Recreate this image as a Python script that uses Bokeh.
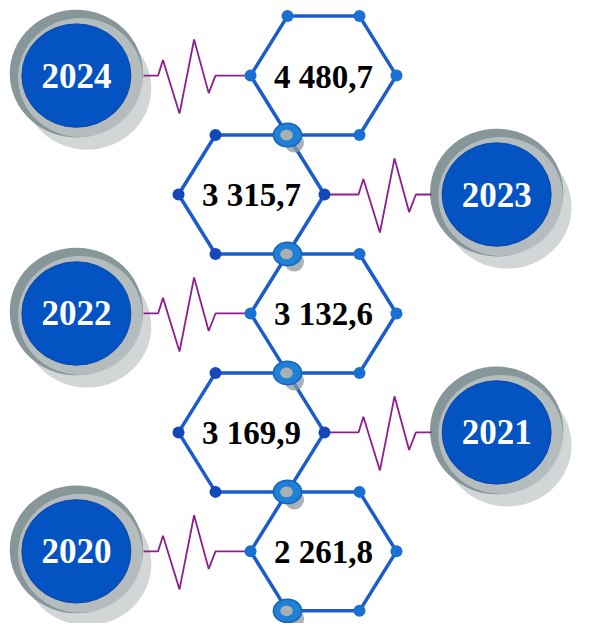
from bokeh.plotting import figure
from bokeh.models import Range1d
from bokeh.core.properties import value
from bokeh.embed import file_html
from bokeh.resources import INLINE

# ---- data ----
years = ["2024", "2023", "2022", "2021", "2020"]
values = [4480.7, 3315.7, 3132.6, 3169.9, 2261.8]
labels = [f"{v:,.1f}".replace(",", " ").replace(".", ",") for v in values]

# ---- layout (reference-pixel data space) ----
W, H = 574, 623
p = figure(width=W, height=H, output_backend="svg", toolbar_location=None,
           x_range=Range1d(0, 590), y_range=Range1d(639, 0),
           x_axis_location=None, y_axis_location=None, min_border=0)
p.grid.visible = False
p.outline_line_color = None
p.background_fill_color = "white"

n = len(years)
STEP = 122
HW, HH, HE = 75, 61, 37      # hex half width, half height, half top edge
cys = [77 + STEP * i for i in range(n)]
hcx = [332 if i % 2 == 0 else 258 for i in range(n)]
ccx = [78 if i % 2 == 0 else 510 for i in range(n)]

# circles: shadow, ring, highlight, blue disk
p.ellipse(x=[c + 11 for c in ccx], y=[c + 13 for c in cys], width=132, height=126,
          fill_color="#d3d6d6", line_color=None)
p.ellipse(x=ccx, y=[c - 2 for c in cys], width=137, height=131,
          fill_color="#869699", line_color=None)
p.ellipse(x=[c + 4 for c in ccx], y=[c + 2 for c in cys], width=128, height=122,
          fill_color="#bcc3c4", line_color=None, fill_alpha=0.85)
p.ellipse(x=ccx, y=cys, width=112, height=106,
          fill_color="#0353c3", line_color="#0b47a8", line_width=1)

# zigzag connectors
pdx = [0, 5, 22, 37, 52, 59]
pdy = [0, -16, 39, -37, 18, 0]
zx, zy = [], []
for i in range(n):
    cy = cys[i]
    if i % 2 == 0:
        a, b, s = 147, hcx[i] - HW, 162
    else:
        a, b, s = hcx[i] + HW, 443, 368
    zx.append([a] + [s + d for d in pdx] + [b])
    zy.append([cy] + [cy + d for d in pdy] + [cy])
p.multi_line(xs=zx, ys=zy, line_color="#8e1d8e", line_width=1.8)

# hexagons
hx, hy = [], []
for i in range(n):
    cx, cy = hcx[i], cys[i]
    hx.append([cx - HW, cx - HE, cx + HE, cx + HW, cx + HE, cx - HE])
    hy.append([cy, cy - HH, cy - HH, cy, cy + HH, cy + HH])
p.patches(xs=hx, ys=hy, fill_alpha=0.0,
          line_color="#1a5ccd", line_width=3.5)

# small vertex dots
dx_, dy_, dc = [], [], []
big_x, big_y = [], []
for i in range(n):
    cx, cy = hcx[i], cys[i]
    col = "#1a6fd2" if i % 2 == 0 else "#1447b9"
    verts = [(cx - HW, cy), (cx - HE, cy - HH), (cx + HE, cy - HH),
             (cx + HW, cy), (cx + HE, cy + HH), (cx - HE, cy + HH)]
    for (vx, vy) in verts:
        if abs(vx - 294) <= 2 and vy == cy + HH:
            big_x.append(vx); big_y.append(vy)
        elif abs(vx - 294) <= 2 and i > 0 and vy == cy - HH:
            continue
        else:
            dx_.append(vx); dy_.append(vy); dc.append(col)
p.scatter(x=dx_, y=dy_, size=12, fill_color=dc, line_color=None)

# big shared nodes
p.ellipse(x=[x + 7 for x in big_x], y=[y + 8 for y in big_y], width=20, height=20,
          fill_color="#8c989b", fill_alpha=0.75, line_color=None)
p.ellipse(x=big_x, y=big_y, width=29, height=24,
          fill_color="#1f80d4", line_color="#1462c4", line_width=1.5)
p.ellipse(x=[x - 1 for x in big_x], y=big_y, width=13, height=11,
          fill_color="#a7b0b3", line_color=None)

# texts
p.text(x=ccx, y=cys, text=years, text_color="white",
       text_font=value("Liberation Serif"), text_font_style="bold",
       text_font_size="35px", text_align="center", text_baseline="middle")
p.text(x=hcx, y=[c + 1 for c in cys], text=labels, text_color="black",
       text_font=value("Liberation Serif"), text_font_style="bold",
       text_font_size="33px", text_align="center", text_baseline="middle")

open("out.html", "w").write(file_html(p, INLINE))
